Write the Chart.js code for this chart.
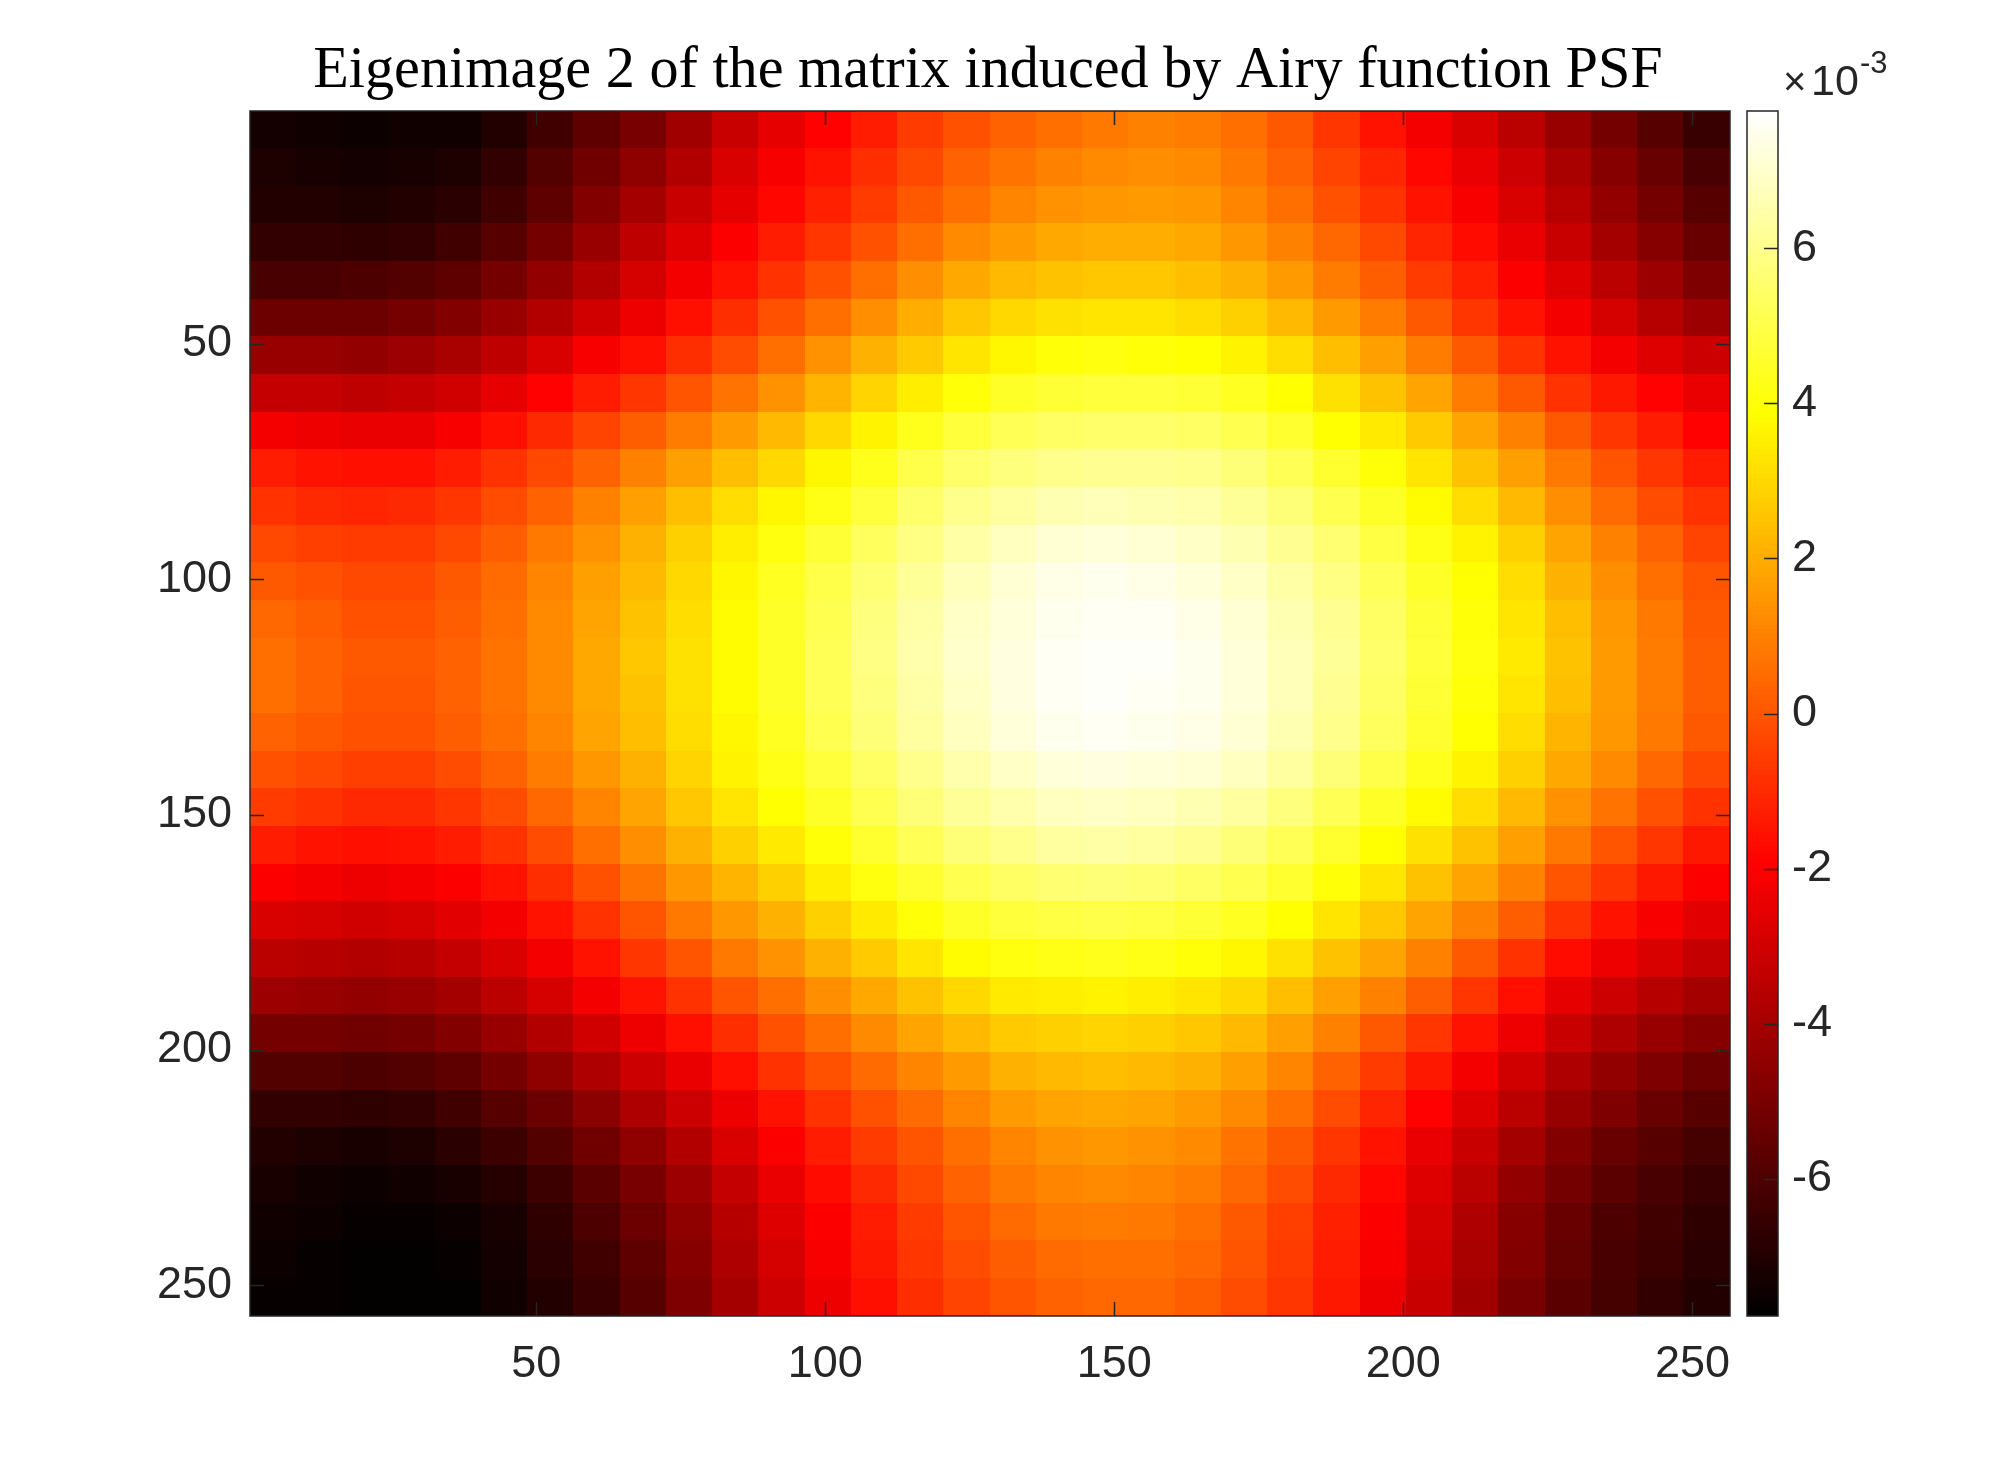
<!DOCTYPE html>
<html lang="en">
<head>
<meta charset="UTF-8">
<title>Eigenimage 2 of the matrix induced by Airy function PSF</title>
<script src="https://cdn.jsdelivr.net/npm/chart.js"></script>
<style>
  html, body { margin: 0; padding: 0; background: #fff; }
  #wrap { width: 2000px; height: 1480px; }
</style>
</head>
<body>
<div id="wrap"><canvas id="eigenChart" width="2000" height="1480"></canvas></div>
<script>
// pixel index of each sampled cell centre in the 256 x 256 eigenimage
const colCenters = [4.5, 12.5, 20.5, 28.5, 36.5, 44.5, 52.5, 60.5, 68.5, 76.5, 84.5, 92.5, 100.5, 108.5, 116.5, 124.5,
  132.5, 140.5, 148.5, 156.5, 164.5, 172.5, 180.5, 188.5, 196.5, 204.5, 212.5, 220.5, 228.5, 236.5, 244.5, 252.5];
const rowCenters = [4.5, 12.5, 20.5, 28.5, 36.5, 44.5, 52.5, 60.5, 68.5, 76.5, 84.5, 92.5, 100.5, 108.5, 116.5, 124.5,
  132.5, 140.5, 148.5, 156.5, 164.5, 172.5, 180.5, 188.5, 196.5, 204.5, 212.5, 220.5, 228.5, 236.5, 244.5, 252.5];

// eigenimage values (x 1e-3), one array per row, top to bottom
const eigenValues = [
  [-7.3, -7.4, -7.5, -7.4, -7.4, -7.0, -6.3, -5.6, -5.0, -4.1, -3.2, -2.5, -1.9, -1.3, -0.6, -0.1, 0.3, 0.6, 0.8, 1.0, 0.9, 0.6, 0.1, -0.7, -1.5, -2.2, -2.8, -3.5, -4.3, -5.1, -5.8, -6.5],
  [-7.1, -7.2, -7.3, -7.2, -7.1, -6.6, -5.9, -5.2, -4.5, -3.7, -2.8, -2.1, -1.5, -0.9, -0.3, 0.3, 0.7, 1.0, 1.2, 1.3, 1.2, 0.8, 0.3, -0.4, -1.1, -1.8, -2.4, -3.1, -3.9, -4.7, -5.4, -6.1],
  [-7.0, -7.0, -7.1, -7.0, -6.8, -6.3, -5.6, -4.8, -4.0, -3.2, -2.5, -1.8, -1.2, -0.6, 0.1, 0.6, 1.1, 1.4, 1.5, 1.6, 1.5, 1.1, 0.6, -0.1, -0.8, -1.5, -2.1, -2.8, -3.6, -4.4, -5.1, -5.8],
  [-6.6, -6.6, -6.7, -6.6, -6.3, -5.8, -5.1, -4.3, -3.4, -2.7, -2.0, -1.3, -0.7, -0.1, 0.6, 1.2, 1.6, 1.9, 2.0, 2.0, 1.9, 1.5, 1.0, 0.4, -0.3, -1.1, -1.7, -2.4, -3.2, -4.0, -4.7, -5.4],
  [-6.1, -6.1, -6.0, -5.9, -5.6, -5.1, -4.4, -3.7, -2.9, -2.2, -1.5, -0.8, -0.1, 0.6, 1.3, 1.9, 2.3, 2.5, 2.6, 2.6, 2.4, 2.1, 1.6, 0.9, 0.2, -0.6, -1.2, -2.0, -2.7, -3.5, -4.2, -4.9],
  [-5.3, -5.3, -5.3, -5.1, -4.8, -4.3, -3.7, -3.0, -2.3, -1.6, -0.9, -0.1, 0.6, 1.3, 2.0, 2.6, 3.0, 3.2, 3.3, 3.3, 3.1, 2.8, 2.3, 1.6, 0.9, 0.1, -0.7, -1.5, -2.2, -2.9, -3.6, -4.2],
  [-4.3, -4.3, -4.4, -4.2, -3.9, -3.4, -2.8, -2.1, -1.6, -0.9, -0.2, 0.6, 1.4, 2.1, 2.7, 3.3, 3.7, 4.0, 4.1, 4.0, 3.9, 3.6, 3.1, 2.4, 1.7, 0.9, 0.1, -0.8, -1.5, -2.2, -2.7, -3.1],
  [-3.3, -3.3, -3.4, -3.3, -3.0, -2.5, -1.9, -1.3, -0.7, 0.0, 0.7, 1.4, 2.2, 2.9, 3.5, 4.0, 4.5, 4.7, 4.8, 4.8, 4.7, 4.4, 3.9, 3.2, 2.5, 1.8, 0.9, 0.1, -0.8, -1.4, -1.9, -2.4],
  [-2.2, -2.3, -2.4, -2.4, -2.1, -1.6, -1.0, -0.4, 0.2, 0.9, 1.6, 2.3, 3.0, 3.6, 4.3, 4.8, 5.2, 5.4, 5.5, 5.5, 5.4, 5.1, 4.6, 3.9, 3.4, 2.7, 1.8, 1.0, 0.1, -0.7, -1.3, -1.9],
  [-1.3, -1.5, -1.6, -1.6, -1.3, -0.8, -0.3, 0.3, 1.0, 1.7, 2.4, 3.0, 3.7, 4.3, 5.0, 5.5, 5.8, 6.0, 6.1, 6.1, 6.0, 5.7, 5.2, 4.6, 4.0, 3.3, 2.5, 1.7, 0.8, 0.0, -0.7, -1.3],
  [-0.8, -1.0, -1.1, -1.0, -0.7, -0.2, 0.3, 1.0, 1.7, 2.4, 3.1, 3.7, 4.2, 4.8, 5.5, 6.0, 6.3, 6.6, 6.7, 6.6, 6.5, 6.2, 5.7, 5.1, 4.5, 3.8, 3.1, 2.3, 1.3, 0.5, -0.2, -0.8],
  [-0.3, -0.5, -0.6, -0.6, -0.3, 0.2, 0.8, 1.4, 2.1, 2.8, 3.5, 4.1, 4.7, 5.3, 5.9, 6.4, 6.8, 7.1, 7.2, 7.1, 6.9, 6.6, 6.1, 5.6, 4.9, 4.2, 3.6, 2.8, 1.8, 1.0, 0.3, -0.4],
  [0.1, -0.1, -0.3, -0.3, 0.1, 0.5, 1.1, 1.7, 2.3, 3.0, 3.7, 4.4, 5.0, 5.6, 6.2, 6.7, 7.1, 7.4, 7.5, 7.4, 7.2, 6.9, 6.4, 5.9, 5.2, 4.5, 3.9, 3.1, 2.1, 1.3, 0.6, 0.0],
  [0.4, 0.2, -0.1, -0.1, 0.2, 0.6, 1.2, 1.8, 2.5, 3.1, 3.8, 4.5, 5.1, 5.8, 6.4, 6.9, 7.2, 7.5, 7.6, 7.6, 7.4, 7.1, 6.6, 6.1, 5.4, 4.7, 4.0, 3.3, 2.4, 1.5, 0.8, 0.1],
  [0.6, 0.3, 0.1, 0.1, 0.3, 0.7, 1.2, 1.9, 2.6, 3.2, 3.8, 4.5, 5.2, 5.9, 6.5, 7.0, 7.3, 7.6, 7.7, 7.7, 7.5, 7.2, 6.7, 6.2, 5.5, 4.8, 4.1, 3.4, 2.5, 1.6, 0.9, 0.2],
  [0.6, 0.3, 0.0, 0.0, 0.3, 0.7, 1.2, 1.9, 2.5, 3.2, 3.8, 4.5, 5.2, 5.8, 6.4, 6.9, 7.3, 7.6, 7.7, 7.6, 7.5, 7.2, 6.7, 6.1, 5.4, 4.7, 4.0, 3.3, 2.4, 1.6, 0.9, 0.2],
  [0.3, 0.1, -0.1, -0.1, 0.2, 0.6, 1.1, 1.8, 2.4, 3.1, 3.7, 4.4, 5.1, 5.7, 6.3, 6.8, 7.2, 7.5, 7.6, 7.5, 7.4, 7.1, 6.6, 6.0, 5.3, 4.6, 3.9, 3.1, 2.2, 1.5, 0.8, 0.1],
  [-0.1, -0.3, -0.5, -0.5, -0.2, 0.3, 0.9, 1.5, 2.1, 2.9, 3.6, 4.2, 4.8, 5.4, 6.0, 6.5, 6.9, 7.2, 7.3, 7.2, 7.1, 6.8, 6.3, 5.7, 5.0, 4.3, 3.6, 2.8, 1.9, 1.2, 0.4, -0.3],
  [-0.6, -0.8, -1.0, -1.0, -0.7, -0.2, 0.4, 1.1, 1.8, 2.6, 3.3, 3.9, 4.5, 5.1, 5.7, 6.2, 6.5, 6.8, 6.9, 6.8, 6.6, 6.3, 5.8, 5.2, 4.5, 3.8, 3.1, 2.3, 1.4, 0.7, -0.1, -0.8],
  [-1.3, -1.5, -1.6, -1.5, -1.3, -0.8, -0.2, 0.6, 1.3, 2.1, 2.8, 3.4, 4.0, 4.6, 5.2, 5.7, 6.0, 6.3, 6.4, 6.3, 6.1, 5.7, 5.2, 4.6, 3.9, 3.2, 2.5, 1.7, 0.8, 0.0, -0.7, -1.4],
  [-2.0, -2.2, -2.3, -2.2, -2.0, -1.5, -0.9, -0.1, 0.7, 1.5, 2.2, 2.8, 3.5, 4.1, 4.6, 5.1, 5.4, 5.6, 5.7, 5.6, 5.4, 5.1, 4.6, 4.0, 3.3, 2.5, 1.8, 1.0, 0.0, -0.7, -1.4, -2.0],
  [-2.8, -2.9, -3.0, -2.9, -2.6, -2.2, -1.5, -0.8, 0.0, 0.8, 1.5, 2.1, 2.8, 3.4, 4.0, 4.5, 4.8, 4.9, 5.0, 4.9, 4.7, 4.4, 3.9, 3.3, 2.6, 1.8, 1.0, 0.2, -0.8, -1.5, -2.1, -2.6],
  [-3.5, -3.6, -3.7, -3.6, -3.3, -2.8, -2.2, -1.5, -0.7, 0.0, 0.8, 1.4, 2.1, 2.7, 3.3, 3.8, 4.1, 4.2, 4.3, 4.2, 4.0, 3.7, 3.2, 2.5, 1.8, 1.0, 0.1, -0.8, -1.7, -2.3, -2.8, -3.3],
  [-4.2, -4.3, -4.4, -4.3, -4.0, -3.5, -2.9, -2.2, -1.5, -0.8, 0.0, 0.6, 1.3, 1.9, 2.5, 3.0, 3.4, 3.5, 3.6, 3.5, 3.3, 3.0, 2.4, 1.7, 1.0, 0.2, -0.7, -1.6, -2.5, -3.1, -3.6, -4.0],
  [-5.1, -5.1, -5.2, -5.1, -4.8, -4.3, -3.7, -3.0, -2.3, -1.6, -0.9, -0.1, 0.6, 1.2, 1.8, 2.3, 2.7, 2.8, 2.9, 2.8, 2.6, 2.3, 1.7, 1.0, 0.1, -0.7, -1.5, -2.3, -3.2, -3.8, -4.3, -4.7],
  [-5.9, -5.9, -6.0, -5.9, -5.6, -5.1, -4.5, -3.8, -3.1, -2.4, -1.6, -0.8, -0.1, 0.5, 1.1, 1.6, 2.1, 2.3, 2.4, 2.3, 2.1, 1.7, 1.1, 0.3, -0.6, -1.4, -2.2, -3.0, -3.8, -4.4, -4.9, -5.3],
  [-6.6, -6.6, -6.7, -6.6, -6.3, -5.8, -5.3, -4.6, -3.8, -3.1, -2.3, -1.5, -0.8, -0.1, 0.5, 1.1, 1.6, 1.8, 1.9, 1.8, 1.6, 1.2, 0.6, -0.2, -1.1, -1.9, -2.7, -3.5, -4.3, -4.9, -5.4, -5.8],
  [-7.0, -7.1, -7.2, -7.1, -6.8, -6.4, -5.9, -5.2, -4.5, -3.7, -2.8, -2.0, -1.3, -0.6, 0.0, 0.6, 1.1, 1.4, 1.5, 1.4, 1.2, 0.7, 0.1, -0.7, -1.5, -2.4, -3.2, -4.0, -4.8, -5.4, -5.8, -6.2],
  [-7.2, -7.4, -7.5, -7.4, -7.2, -6.9, -6.4, -5.7, -5.0, -4.2, -3.3, -2.4, -1.7, -1.0, -0.3, 0.3, 0.8, 1.1, 1.2, 1.1, 0.9, 0.4, -0.2, -1.0, -1.8, -2.7, -3.5, -4.4, -5.1, -5.7, -6.1, -6.5],
  [-7.4, -7.5, -7.6, -7.6, -7.5, -7.2, -6.7, -6.0, -5.3, -4.5, -3.6, -2.7, -2.0, -1.3, -0.6, 0.0, 0.5, 0.8, 0.9, 0.8, 0.6, 0.1, -0.5, -1.2, -2.0, -2.9, -3.8, -4.7, -5.4, -6.0, -6.3, -6.7],
  [-7.5, -7.6, -7.7, -7.7, -7.6, -7.3, -6.8, -6.3, -5.6, -4.7, -3.8, -2.9, -2.1, -1.4, -0.7, -0.2, 0.2, 0.5, 0.6, 0.6, 0.4, 0.0, -0.6, -1.3, -2.1, -3.0, -3.9, -4.8, -5.5, -6.1, -6.4, -6.8],
  [-7.6, -7.6, -7.7, -7.7, -7.7, -7.4, -7.0, -6.5, -5.8, -4.9, -4.0, -3.1, -2.3, -1.6, -0.9, -0.4, 0.0, 0.3, 0.4, 0.4, 0.2, -0.2, -0.7, -1.4, -2.3, -3.2, -4.1, -5.0, -5.7, -6.2, -6.6, -7.0]
];

const axisTicks = [50, 100, 150, 200, 250];
const barTicks = [-6, -4, -2, 0, 2, 4, 6];
const colorMin = -7.77;
const colorMax = 7.77;

const ink = '#262626';
const tickFont = { family: "'Liberation Sans', Arial, sans-serif", size: 45 };

// MATLAB "hot" colour map
function hot(v) {
  const t = Math.min(1, Math.max(0, (v - colorMin) / (colorMax - colorMin)));
  const r = Math.min(1, t / 0.375);
  const g = Math.min(1, Math.max(0, (t - 0.375) / 0.375));
  const b = Math.min(1, Math.max(0, (t - 0.75) / 0.25));
  return 'rgb(' + Math.round(r * 255) + ',' + Math.round(g * 255) + ',' + Math.round(b * 255) + ')';
}

const points = [];
rowCenters.forEach((y, j) => colCenters.forEach((x, i) => points.push({ x: x, y: y, v: eigenValues[j][i] })));

const heatmap = {
  id: 'heatmap',
  beforeDatasetsDraw(chart) {
    const { ctx, chartArea, scales } = chart;
    const xs = scales.x, ys = scales.y;
    const hw = (colCenters[1] - colCenters[0]) / 2;
    const hh = (rowCenters[1] - rowCenters[0]) / 2;
    ctx.save();
    ctx.beginPath();
    ctx.rect(chartArea.left, chartArea.top, chartArea.width, chartArea.height);
    ctx.clip();
    points.forEach(p => {
      const x0 = Math.floor(xs.getPixelForValue(p.x - hw));
      const x1 = Math.ceil(xs.getPixelForValue(p.x + hw));
      const y0 = Math.floor(ys.getPixelForValue(p.y - hh));
      const y1 = Math.ceil(ys.getPixelForValue(p.y + hh));
      ctx.fillStyle = hot(p.v);
      ctx.fillRect(x0, y0, x1 - x0, y1 - y0);
    });
    ctx.restore();
  },
  afterDraw(chart) {
    const { ctx, chartArea: a, scales } = chart;
    ctx.save();
    ctx.strokeStyle = ink;
    ctx.lineWidth = 1.5;
    // inward tick marks on all four sides
    ctx.beginPath();
    axisTicks.forEach(t => {
      const px = Math.round(scales.x.getPixelForValue(t)) + 0.5;
      ctx.moveTo(px, a.bottom); ctx.lineTo(px, a.bottom - 14);
      ctx.moveTo(px, a.top); ctx.lineTo(px, a.top + 14);
      const py = Math.round(scales.y.getPixelForValue(t)) + 0.5;
      ctx.moveTo(a.left, py); ctx.lineTo(a.left + 14, py);
      ctx.moveTo(a.right, py); ctx.lineTo(a.right - 14, py);
    });
    ctx.stroke();
    ctx.strokeRect(a.left, a.top, a.width, a.height);

    // colour bar
    const cb = scales.cb;
    const bl = cb.left + 17, bw = 31;
    const steps = 256;
    for (let k = 0; k < steps; k++) {
      const v0 = colorMin + (colorMax - colorMin) * k / steps;
      const v1 = colorMin + (colorMax - colorMin) * (k + 1) / steps;
      const y0 = Math.floor(cb.getPixelForValue(v1));
      const y1 = Math.ceil(cb.getPixelForValue(v0));
      ctx.fillStyle = hot((v0 + v1) / 2);
      ctx.fillRect(bl, y0, bw, y1 - y0);
    }
    ctx.strokeRect(bl, cb.top, bw, cb.bottom - cb.top);
    ctx.beginPath();
    barTicks.forEach(t => {
      const py = Math.round(cb.getPixelForValue(t)) + 0.5;
      ctx.moveTo(bl + bw, py); ctx.lineTo(bl + bw - 14, py);
    });
    ctx.stroke();

    // exponent label above the colour bar
    ctx.fillStyle = ink;
    ctx.textBaseline = 'alphabetic';
    ctx.textAlign = 'left';
    ctx.font = "40px 'Liberation Sans', Arial, sans-serif";
    ctx.fillText('\u00d7', 1783, 95);
    ctx.font = "43px 'Liberation Sans', Arial, sans-serif";
    ctx.fillText('10', 1811, 95);
    ctx.font = "31px 'Liberation Sans', Arial, sans-serif";
    ctx.fillText('-3', 1860, 73);

    // title, stretched to the reference width
    const title = 'Eigenimage 2 of the matrix induced by Airy function PSF';
    ctx.fillStyle = '#000';
    ctx.font = "56px 'Liberation Serif', 'Times New Roman', serif";
    const w = ctx.measureText(title).width;
    const size = 56 * 1349 / w;
    ctx.font = size.toFixed(1) + "px 'Liberation Serif', 'Times New Roman', serif";
    ctx.textAlign = 'center';
    ctx.fillText(title, 988, 87);
    ctx.restore();
  }
};

new Chart(document.getElementById('eigenChart'), {
  type: 'scatter',
  data: {
    datasets: [{ data: points, pointRadius: 0, pointHoverRadius: 0 }]
  },
  options: {
    responsive: false,
    animation: false,
    devicePixelRatio: 1,
    layout: { padding: { top: 111, left: 0, right: 0, bottom: 0 } },
    plugins: { legend: { display: false }, tooltip: { enabled: false }, title: { display: false } },
    scales: {
      x: {
        type: 'linear', position: 'bottom', min: 0.5, max: 256.5,
        afterBuildTicks: s => { s.ticks = axisTicks.map(v => ({ value: v })); },
        afterFit: s => { s.height = 164; },
        grid: { display: false, drawTicks: false },
        border: { display: false },
        ticks: { font: tickFont, color: ink, padding: 22, autoSkip: false, maxRotation: 0 }
      },
      y: {
        type: 'linear', position: 'left', reverse: true, min: 0.5, max: 256.5,
        afterBuildTicks: s => { s.ticks = axisTicks.map(v => ({ value: v })); },
        afterFit: s => { s.width = 250; },
        grid: { display: false, drawTicks: false },
        border: { display: false },
        ticks: { font: tickFont, color: ink, padding: 18, autoSkip: false }
      },
      cb: {
        type: 'linear', axis: 'y', position: 'right', min: colorMin, max: colorMax,
        afterBuildTicks: s => { s.ticks = barTicks.map(v => ({ value: v })); },
        afterFit: s => { s.width = 270; },
        grid: { display: false, drawTicks: false },
        border: { display: false },
        ticks: { font: tickFont, color: ink, padding: 62, autoSkip: false, callback: v => String(v) }
      }
    }
  },
  plugins: [heatmap]
});
</script>
</body>
</html>
